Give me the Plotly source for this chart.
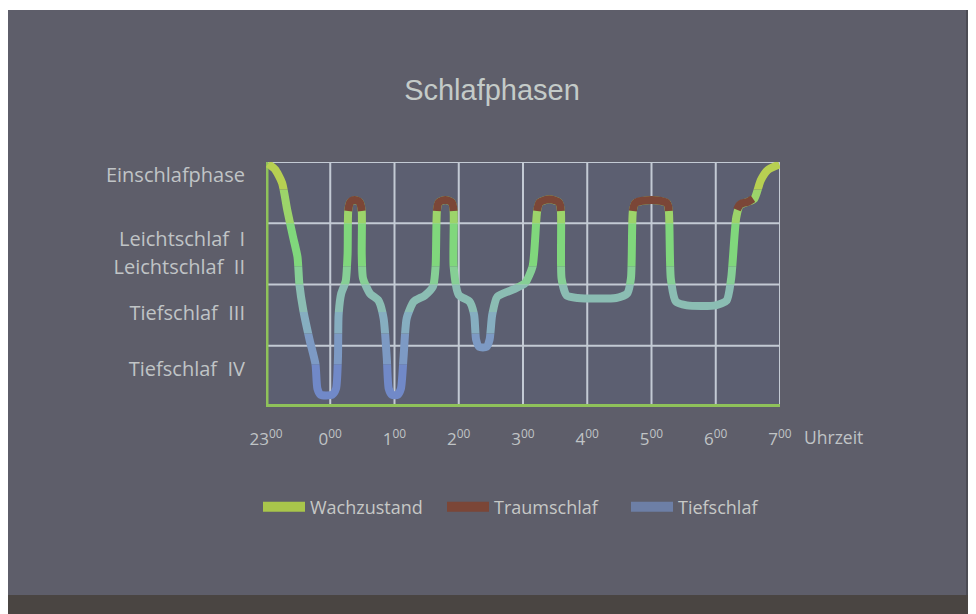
import plotly.graph_objects as go

# ---------------- data ----------------
hour_pos = [0, 1, 2, 3, 4, 5, 6, 7, 8]
hour_labels = ["23", "0", "1", "2", "3", "4", "5", "6", "7"]

stage_labels = ["Einschlafphase", "Leichtschlaf\u00a0 I", "Leichtschlaf\u00a0 II", "Tiefschlaf\u00a0 III", "Tiefschlaf\u00a0 IV"]
stage_label_pos = [3.79, 2.75, 2.28, 1.54, 0.62]

grid_hours = [1, 2, 3, 4, 5, 6, 7]
grid_levels = [1, 2, 3]

# hypnogram (x: hours after 23:00, y: sleep level 0 = deepest, 4 = awake)
stage_x = [0.03, 0.14, 0.25, 0.33, 0.42, 0.49, 0.52, 0.58, 0.68, 0.77, 0.80, 0.85, 1.03, 1.09, 1.12, 1.13,
           1.17, 1.24, 1.27, 1.28, 1.31, 1.38, 1.46, 1.49, 1.49, 1.51, 1.62, 1.75, 1.83, 1.88, 1.91, 1.96,
           2.05, 2.10, 2.14, 2.19, 2.30, 2.47, 2.60, 2.64, 2.66, 2.69, 2.79, 2.89, 2.92, 2.92, 3.00, 3.17,
           3.24, 3.27, 3.32, 3.43, 3.48, 3.52, 3.60, 3.85, 4.03, 4.15, 4.22, 4.26, 4.41, 4.56, 4.59, 4.60,
           4.68, 4.85, 5.45, 5.62, 5.68, 5.71, 5.75, 6.00, 6.24, 6.27, 6.30, 6.38, 6.55, 7.00, 7.17, 7.24,
           7.32, 7.38, 7.50, 7.60, 7.70, 7.81, 7.99]
stage_y = [3.97, 3.88, 3.66, 3.22, 2.78, 2.45, 2.00, 1.58, 1.09, 0.70, 0.30, 0.20, 0.20, 0.30, 0.80, 1.50,
           1.85, 2.05, 2.50, 3.20, 3.34, 3.38, 3.34, 3.20, 2.50, 2.10, 1.85, 1.74, 1.45, 0.80, 0.30, 0.20,
           0.20, 0.30, 0.80, 1.45, 1.72, 1.82, 1.97, 2.30, 3.20, 3.34, 3.38, 3.34, 3.20, 2.30, 1.83, 1.72,
           1.50, 1.10, 0.98, 0.98, 1.10, 1.50, 1.80, 1.92, 2.02, 2.30, 3.20, 3.34, 3.39, 3.34, 3.20, 2.10,
           1.82, 1.78, 1.78, 1.85, 2.10, 3.20, 3.33, 3.38, 3.33, 3.20, 2.10, 1.72, 1.66, 1.66, 1.74, 2.10,
           3.10, 3.30, 3.35, 3.40, 3.70, 3.87, 3.96]

# dream-sleep (REM) caps
rem_x = [1.28, 1.31, 1.38, 1.46, 1.49, None,
         2.66, 2.69, 2.79, 2.89, 2.92, None,
         4.22, 4.26, 4.41, 4.56, 4.59, None,
         5.71, 5.75, 6.00, 6.24, 6.27, None,
         7.33, 7.38, 7.50, 7.58]
rem_y = [3.20, 3.34, 3.38, 3.34, 3.20, None,
         3.20, 3.34, 3.38, 3.34, 3.20, None,
         3.20, 3.34, 3.39, 3.34, 3.20, None,
         3.20, 3.33, 3.38, 3.33, 3.20, None,
         3.22, 3.31, 3.35, 3.40]

legend_names = ["Wachzustand", "Traumschlaf", "Tiefschlaf"]

# ---------------- style ----------------
BG = "#5e5e6a"
PLOT_BG = "#5c5f71"
GRID = "#c3cad4"
GREEN_AXIS = "#8fc25a"
TEXT = "#c0c4c6"
legend_colors = ["#a9c64b", "#7b4637", "#6d7fa6"]
# colour bands (level ranges) to imitate the vertical colour gradient of the curve
bands = [(0.0, 0.7, "#7189c8"), (0.7, 1.2, "#7d9ac4"), (1.2, 1.55, "#86aec0"),
         (1.55, 2.0, "#8bbdb3"), (2.0, 2.3, "#86cf95"), (2.3, 3.0, "#80d77c"),
         (3.0, 3.55, "#9cd46a"), (3.55, 4.0, "#b7cf52")]
Y_MAX = 4.0

# the page shows the figure offset by the browser's 8px body margin
OFF = 8
W, H = 976, 614
# plot area in screen pixels of the reference
SX0, SX1, SY0, SY1 = 266, 780, 162, 407
L_M, R_M = SX0 - OFF, W - (SX1 - OFF)
T_M, B_M = SY0 - OFF, H - (SY1 - OFF)
PW, PH = SX1 - SX0, SY1 - SY0


def pxx(p):
    return (p - SX0) / PW


def pxy(p):
    return (SY1 - p) / PH


fig = go.Figure()
layout_axes = {}
rem_axis = None
for i, (a, b, col) in enumerate(bands):
    name = "y%d" % (i + 2)
    layout_axes["yaxis%d" % (i + 2)] = dict(domain=[a / Y_MAX, b / Y_MAX], range=[a, b], visible=False,
                                           anchor="x", fixedrange=True, showgrid=False, zeroline=False)
    fig.add_trace(go.Scatter(x=stage_x, y=stage_y, xaxis="x", yaxis=name, mode="lines",
                             line=dict(color=col, width=8, shape="spline", smoothing=0.6),
                             showlegend=False, hoverinfo="skip"))
    if a <= 3.2 and b >= 3.45:
        rem_axis = name

fig.add_trace(go.Scatter(x=rem_x, y=rem_y, xaxis="x", yaxis=rem_axis, mode="lines",
                         line=dict(color=legend_colors[1], width=8, shape="spline", smoothing=0.8),
                         showlegend=False, hoverinfo="skip", connectgaps=False))

for nm, col in zip(legend_names, legend_colors):
    fig.add_trace(go.Scatter(x=[None], y=[None], mode="lines", name=nm,
                             line=dict(color=col, width=10)))

shapes = []
# photo frame (projection screen edges) and plot background
shapes.append(dict(type="rect", xref="paper", yref="paper", x0=pxx(0), x1=pxx(W + OFF), y0=pxy(10), y1=pxy(0),
                   fillcolor="#ffffff", line=dict(width=0), layer="below"))
shapes.append(dict(type="rect", xref="paper", yref="paper", x0=pxx(0), x1=pxx(W + OFF), y0=pxy(H + OFF), y1=pxy(595),
                   fillcolor="#4a4542", line=dict(width=0), layer="below"))
shapes.append(dict(type="rect", xref="paper", yref="paper", x0=pxx(966), x1=pxx(W + OFF), y0=pxy(595), y1=pxy(10),
                   fillcolor="#4c4c54", line=dict(width=0), layer="below"))
shapes.append(dict(type="rect", xref="paper", yref="paper", x0=0, x1=1, y0=0, y1=1,
                   fillcolor=PLOT_BG, line=dict(width=0), layer="below"))
for h in grid_hours:
    shapes.append(dict(type="line", xref="x", yref="y", x0=h, x1=h, y0=0, y1=Y_MAX,
                       line=dict(color=GRID, width=2), layer="below"))
for lv in grid_levels:
    shapes.append(dict(type="line", xref="x", yref="y", x0=0, x1=8, y0=lv, y1=lv,
                       line=dict(color=GRID, width=2), layer="below"))
# frame
shapes.append(dict(type="line", xref="x", yref="y", x0=0, x1=8, y0=Y_MAX, y1=Y_MAX,
                   line=dict(color=GRID, width=2), layer="below"))
shapes.append(dict(type="line", xref="x", yref="y", x0=8, x1=8, y0=0, y1=Y_MAX,
                   line=dict(color=GRID, width=2), layer="below"))
shapes.append(dict(type="line", xref="x", yref="y", x0=0, x1=0, y0=0, y1=Y_MAX,
                   line=dict(color=GREEN_AXIS, width=5), layer="below"))
shapes.append(dict(type="line", xref="x", yref="y", x0=-0.04, x1=8.04, y0=0, y1=0,
                   line=dict(color=GREEN_AXIS, width=6), layer="below"))

AX_FONT = dict(family="Open Sans, Noto Sans, sans-serif", size=17, color=TEXT)
Y_FONT = dict(family="Open Sans, Noto Sans, sans-serif", size=20, color=TEXT)

fig.update_layout(
    width=W, height=H,
    margin=dict(l=L_M, r=R_M, t=T_M, b=B_M),
    paper_bgcolor=BG, plot_bgcolor="rgba(0,0,0,0)",
    title=dict(text="Schlafphasen", x=(492 - OFF) / W, xref="container", xanchor="center",
               y=1 - (90 - OFF) / H, yref="container", yanchor="middle",
               font=dict(family="Liberation Sans, Arial, sans-serif", size=29, color="#c4cbc8")),
    xaxis=dict(range=[0, 8], tickvals=hour_pos,
               ticktext=["%s<sup>00</sup>" % t for t in hour_labels],
               showgrid=False, zeroline=False, showline=False, ticks="",
               ticklabelstandoff=20, tickfont=AX_FONT, fixedrange=True, anchor="y"),
    yaxis=dict(range=[0, Y_MAX], domain=[0, 1], tickvals=stage_label_pos, ticktext=stage_labels,
               showgrid=False, zeroline=False, showline=False, ticks="",
               ticklabelstandoff=20, tickfont=Y_FONT, fixedrange=True, anchor="x"),
    shapes=shapes,
    showlegend=True,
    legend=dict(orientation="h", x=pxx(258), xanchor="left", y=pxy(507), yanchor="middle",
                font=dict(family="Open Sans, Noto Sans, sans-serif", size=18, color="#c6c8c6"),
                itemwidth=42, entrywidth=127, entrywidthmode="pixels", bgcolor="rgba(0,0,0,0)"),
    annotations=[dict(text="Uhrzeit", x=8, y=0, xref="x", yref="y", xanchor="left", yanchor="middle",
                      xshift=22, yshift=-30, showarrow=False,
                      font=dict(family="Open Sans, Noto Sans, sans-serif", size=17.5, color=TEXT))],
)
fig.update_layout(**layout_axes)

fig.write_html("out.html")
